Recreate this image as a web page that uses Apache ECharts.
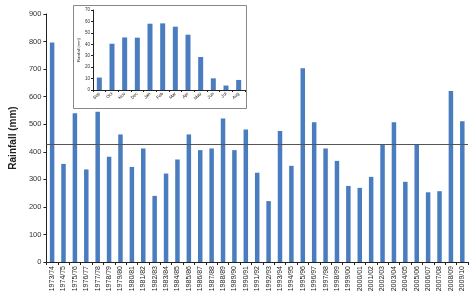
<!DOCTYPE html>
<html>
<head>
<meta charset="utf-8">
<script src="https://cdn.jsdelivr.net/npm/echarts@6/dist/echarts.min.js"></script>
<style>html,body{margin:0;padding:0;background:#fff}#c{width:474px;height:296px}</style>
</head>
<body>
<div id="c"></div>
<script>
const years = ['1973/74','1974/75','1975/76','1976/77','1977/78','1978/79','1979/80','1980/81','1981/82','1982/83','1983/84','1984/85','1985/86','1986/87','1987/88','1988/89','1989/90','1990/91','1991/92','1992/93','1993/94','1994/95','1995/96','1996/97','1997/98','1998/99','1999/00','2000/01','2001/02','2002/03','2003/04','2004/05','2005/06','2006/07','2007/08','2008/09','2009/10'];
const annualRain = [797,356,540,336,545,382,463,345,412,240,321,372,463,406,412,521,406,481,324,221,475,349,703,507,412,367,276,269,309,428,507,291,428,253,257,621,511];
const meanLine = 428;
const months = ['Sep','Oct','Nov','Dec','Jan','Feb','Mar','Apr','May','Jun','Jul','Aug'];
const monthlyRain = [10.9,40.5,46,45.8,58,58.3,55.4,48.4,28.9,10.2,3.9,8.8];
const mainTicks = [0,100,200,300,400,500,600,700,800,900];
const insetTicks = [0,10,20,30,40,50,60,70];

const chart = echarts.init(document.getElementById('c'), null, {renderer:'canvas'});
const blue = '#4a7dbf';
chart.setOption({
  animation:false,
  backgroundColor:'#fff',
  graphic:[{
    type:'rect', z:5,
    shape:{x:73.5,y:5.5,width:173,height:103},
    style:{fill:'#fff',stroke:'#888',lineWidth:1}
  }],
  grid:[
    {left:40,right:6,top:14,bottom:34},
    {left:93,top:10,width:152,height:80,z:10}
  ],
  xAxis:[
    {type:'category',gridIndex:0,data:years,
     axisLine:{lineStyle:{color:'#222',width:1}},
     axisTick:{show:true,interval:0,length:3,lineStyle:{color:'#222'}},
     axisLabel:{interval:0,rotate:90,fontSize:7,color:'#222',margin:4,fontFamily:'Liberation Sans'}},
    {type:'category',gridIndex:1,data:months,z:10,
     axisLine:{lineStyle:{color:'#222',width:1}},
     axisTick:{show:true,interval:0,length:2,lineStyle:{color:'#222'}},
     axisLabel:{interval:0,rotate:45,fontSize:4.5,color:'#222',margin:3,fontFamily:'Liberation Sans'}}
  ],
  yAxis:[
    {type:'value',gridIndex:0,min:0,max:900,interval:100,
     name:'Rainfall (mm)',nameLocation:'middle',nameGap:24,
     nameTextStyle:{fontSize:10,fontWeight:'bold',color:'#222',fontFamily:'Liberation Sans'},
     axisLine:{show:true,lineStyle:{color:'#222',width:1}},
     axisTick:{show:true,length:3,lineStyle:{color:'#222'}},
     splitLine:{show:false},
     axisLabel:{fontSize:7.5,color:'#333',margin:5,fontFamily:'Liberation Sans',
       formatter:v=>mainTicks.includes(v)?String(v):''}},
    {type:'value',gridIndex:1,min:0,max:70,interval:10,z:10,
     name:'Rainfall (mm)',nameLocation:'middle',nameGap:10,
     nameTextStyle:{fontSize:4,color:'#222',fontFamily:'Liberation Sans'},
     axisLine:{show:true,lineStyle:{color:'#222',width:1}},
     axisTick:{show:true,length:2,lineStyle:{color:'#222'}},
     splitLine:{show:false},
     axisLabel:{fontSize:4.5,color:'#333',margin:3,fontFamily:'Liberation Sans',
       formatter:v=>insetTicks.includes(v)?String(v):''}}
  ],
  series:[
    {type:'bar',xAxisIndex:0,yAxisIndex:0,data:annualRain,barWidth:4.5,
     itemStyle:{color:blue},
     markLine:{symbol:'none',silent:true,label:{show:false},
       lineStyle:{color:'#555',width:1,type:'solid'},
       data:[{yAxis:meanLine}]}},
    {type:'bar',xAxisIndex:1,yAxisIndex:1,data:monthlyRain,barWidth:5,z:10,
     itemStyle:{color:blue}}
  ]
});
</script>
</body>
</html>
